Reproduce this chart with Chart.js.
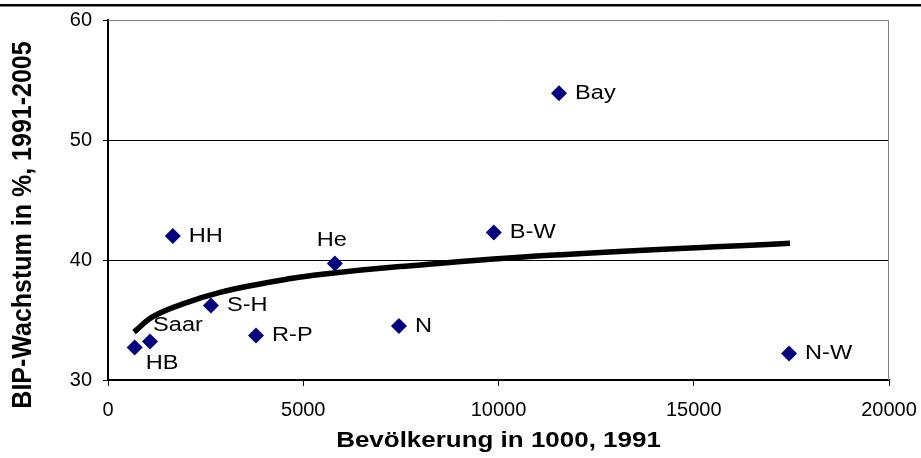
<!DOCTYPE html>
<html><head><meta charset="utf-8">
<script src="https://cdn.jsdelivr.net/npm/chart.js@4"></script>
<style>html,body{margin:0;padding:0;background:#fff}#wrap{width:921px;height:458px}</style>
</head><body><div id="wrap"><canvas id="c" width="921" height="458"></canvas></div>
<script>
const stateLabels = ['HB', 'Saar', 'HH', 'S-H', 'R-P', 'He', 'N', 'B-W', 'Bay', 'N-W'];
const population1991 = [684, 1076, 1660, 2636, 3790, 5810, 7450, 9880, 11550, 17440];
const gdpGrowth = [32.7, 33.2, 42.0, 36.2, 33.7, 39.7, 34.5, 42.3, 53.9, 32.2];
const trendX = [666, 1160, 2015, 2868, 3721, 4576, 5429, 7478, 11319, 17465];
const trendY = [34.0, 35.3, 36.45, 37.3, 37.9, 38.4, 38.8, 39.45, 40.4, 41.4];
const xTicks = [0, 5000, 10000, 15000, 20000];
const yTicks = [30, 40, 50, 60];
const xTitle = 'Bevölkerung in 1000, 1991';
const yTitle = 'BIP-Wachstum in %, 1991-2005';

const FONT = "'Liberation Sans', Arial, sans-serif";
const STRETCH = 1.18;

const points = population1991.map((x, i) => ({x: x, y: gdpGrowth[i]}));
const trend = trendX.map((x, i) => ({x: x, y: trendY[i]}));

// label placement relative to marker: [dx, dy, align]
const placement = {
  'HB': [11, 16, 'left'],
  'Saar': [3, -16, 'left'],
  'He': [-3, -23, 'center']
};

function stretchedText(ctx, text, x, y, align) {
  const w = ctx.measureText(text).width * STRETCH;
  let left = x;
  if (align === 'center') left = x - w / 2;
  else if (align === 'right') left = x - w;
  ctx.save();
  ctx.translate(left, y);
  ctx.scale(STRETCH, 1);
  ctx.textAlign = 'left';
  ctx.fillText(text, 0, 0);
  ctx.restore();
}

const decor = {
  id: 'decor',
  beforeDraw(chart) {
    const ctx = chart.ctx;
    ctx.save();
    ctx.fillStyle = '#fff';
    ctx.fillRect(0, 0, chart.width, chart.height);
    ctx.fillStyle = '#000';
    ctx.fillRect(0, 4, chart.width, 2.5);
    ctx.restore();
  },
  beforeDatasetsDraw(chart) {
    const a = chart.chartArea, ctx = chart.ctx;
    ctx.save();
    ctx.strokeStyle = '#808080';
    ctx.lineWidth = 1;
    ctx.beginPath();
    ctx.moveTo(a.left, a.top + 0.5);
    ctx.lineTo(a.right - 0.5, a.top + 0.5);
    ctx.lineTo(a.right - 0.5, a.bottom);
    ctx.stroke();
    ctx.restore();
  },
  afterDatasetsDraw(chart) {
    const ctx = chart.ctx;
    const meta = chart.getDatasetMeta(0);
    ctx.save();
    ctx.font = '20px ' + FONT;
    ctx.fillStyle = '#000';
    ctx.textBaseline = 'middle';
    meta.data.forEach((el, i) => {
      const lab = stateLabels[i];
      const p = placement[lab] || [16, 0, 'left'];
      stretchedText(ctx, lab, el.x + p[0], el.y + p[1], p[2]);
    });
    // axis titles
    ctx.font = 'bold 22px ' + FONT;
    ctx.textBaseline = 'alphabetic';
    stretchedText(ctx, xTitle, (chart.chartArea.left + chart.chartArea.right) / 2, 447, 'center');
    ctx.font = 'bold 25px ' + FONT;
    ctx.translate(31, 225);
    ctx.rotate(-Math.PI / 2);
    ctx.scale(1, 1.1);
    ctx.textAlign = 'center';
    ctx.fillText(yTitle, 0, 0);
    ctx.restore();
  }
};

new Chart(document.getElementById('c'), {
  type: 'scatter',
  data: {
    datasets: [
      {
        label: 'Bundesländer',
        data: points,
        pointStyle: 'rectRot',
        pointRadius: 8,
        pointHoverRadius: 8,
        backgroundColor: '#000080',
        borderColor: '#000080',
        borderWidth: 0
      },
      {
        label: 'Trend',
        type: 'line',
        data: trend,
        borderColor: '#000',
        borderWidth: 5.5,
        pointRadius: 0,
        fill: false,
        tension: 0.4
      }
    ]
  },
  options: {
    responsive: false,
    animation: false,
    events: [],
    layout: {padding: {left: 0, right: 32, top: 20, bottom: 0}},
    plugins: {legend: {display: false}, tooltip: {enabled: false}},
    scales: {
      x: {
        type: 'linear',
        min: 0, max: 20000,
        afterBuildTicks(s) { s.ticks = xTicks.map(v => ({value: v})); },
        afterFit(s) { s.height = 78; s.paddingLeft = 0; s.paddingRight = 0; },
        grid: {drawOnChartArea: false, drawTicks: true, tickLength: 6, tickColor: '#000', lineWidth: 1},
        border: {display: true, color: '#000', width: 2},
        ticks: {color: '#000', padding: 12, maxRotation: 0, font: {family: FONT, size: 20}, callback: v => String(v)}
      },
      y: {
        type: 'linear',
        min: 30, max: 60,
        afterBuildTicks(s) { s.ticks = yTicks.map(v => ({value: v})); },
        afterFit(s) { s.width = 108; s.paddingTop = 0; s.paddingBottom = 0; },
        grid: {
          drawTicks: true, tickLength: 5, tickColor: '#000', lineWidth: 1,
          color: c => (c.tick && c.tick.value === 60) ? 'rgba(0,0,0,0)' : '#000'
        },
        border: {display: true, color: '#000', width: 2},
        ticks: {color: '#000', padding: 11, font: {family: FONT, size: 20}, callback: v => String(v)}
      }
    }
  },
  plugins: [decor]
});
</script>
</body></html>
